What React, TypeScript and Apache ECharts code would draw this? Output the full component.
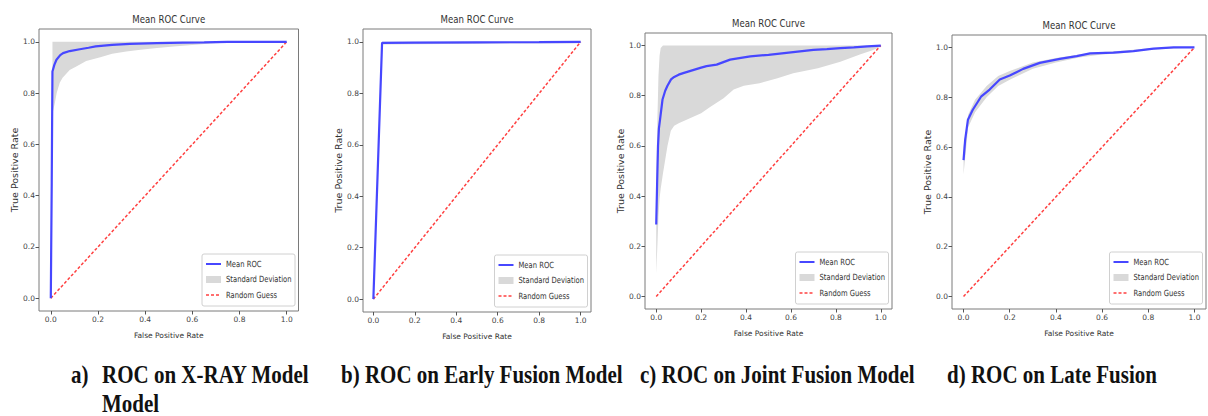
import React, { useEffect, useRef } from "react";
import * as echarts from "echarts";

// ---------- data ----------
const TICKS = [0, 0.2, 0.4, 0.6, 0.8, 1.0];
const GUESS_X = [0, 1];
const GUESS_Y = [0, 1];

// a) X-RAY model
const aMeanX = [0, 0.004, 0.007, 0.015, 0.024, 0.04, 0.052, 0.08, 0.123, 0.16, 0.19, 0.26, 0.335, 0.45, 0.56, 0.65, 0.75, 0.85, 1.0];
const aMeanY = [0, 0.45, 0.884, 0.91, 0.93, 0.948, 0.956, 0.964, 0.971, 0.977, 0.982, 0.988, 0.992, 0.995, 0.997, 0.998, 1.0, 1.0, 1.0];
const aBandX = [0.007, 0.012, 0.017, 0.025, 0.038, 0.05, 0.08, 0.11, 0.15, 0.21, 0.26, 0.32, 0.38, 0.45, 0.52, 0.6, 0.68, 0.76, 0.85, 1.0];
const aBandLo = [0.72, 0.74, 0.76, 0.8, 0.84, 0.86, 0.89, 0.905, 0.925, 0.94, 0.953, 0.962, 0.969, 0.976, 0.982, 0.988, 0.993, 0.997, 1.0, 1.0];
const aBandHi = [1.0, 1.0, 1.0, 1.0, 1.0, 1.0, 1.0, 1.0, 1.0, 1.0, 1.0, 1.0, 1.0, 1.0, 1.0, 1.0, 1.0, 1.0, 1.0, 1.0];

// b) Early fusion model
const bMeanX = [0, 0.042, 0.2, 0.5, 0.8, 1.0];
const bMeanY = [0, 0.996, 0.997, 0.998, 0.999, 1.0];
const bBandX = [0.042, 0.5, 1.0];
const bBandLo = [0.99, 0.993, 0.995];
const bBandHi = [1.0, 1.0, 1.0];

// c) Joint fusion model
const cMeanX = [0, 0.004, 0.008, 0.012, 0.017, 0.028, 0.04, 0.05, 0.066, 0.08, 0.1, 0.12, 0.149, 0.2, 0.224, 0.269, 0.329, 0.37, 0.419, 0.5, 0.58, 0.64, 0.7, 0.76, 0.82, 0.88, 0.94, 1.0];
const cMeanY = [0.287, 0.45, 0.6, 0.67, 0.705, 0.785, 0.82, 0.84, 0.865, 0.875, 0.884, 0.89, 0.898, 0.912, 0.918, 0.924, 0.944, 0.95, 0.957, 0.963, 0.971, 0.977, 0.983, 0.986, 0.99, 0.993, 0.997, 1.0];
const cBandX = [0, 0.005, 0.01, 0.015, 0.02, 0.03, 0.05, 0.065, 0.08, 0.1, 0.15, 0.2, 0.24, 0.3, 0.345, 0.39, 0.46, 0.54, 0.61, 0.72, 0.82, 0.91, 0.96, 1.0];
const cBandLo = [0.09, 0.2, 0.32, 0.39, 0.43, 0.49, 0.6, 0.66, 0.68, 0.69, 0.71, 0.73, 0.755, 0.79, 0.825, 0.84, 0.85, 0.87, 0.89, 0.91, 0.935, 0.965, 0.98, 0.995];
const cBandHi = [0.45, 0.7, 0.88, 0.96, 0.99, 1.0, 1.0, 1.0, 1.0, 1.0, 1.0, 1.0, 1.0, 1.0, 1.0, 1.0, 1.0, 1.0, 1.0, 1.0, 1.0, 1.0, 1.0, 1.0];

// d) Late fusion
const dMeanX = [0, 0.007, 0.019, 0.04, 0.077, 0.113, 0.157, 0.2, 0.258, 0.33, 0.417, 0.49, 0.548, 0.649, 0.736, 0.823, 0.91, 1.0];
const dMeanY = [0.548, 0.629, 0.71, 0.75, 0.804, 0.831, 0.871, 0.887, 0.914, 0.938, 0.954, 0.965, 0.976, 0.979, 0.985, 0.995, 1.0, 1.0];
const dBandX = [0, 0.02, 0.05, 0.1, 0.15, 0.2, 0.3, 0.4, 0.5, 0.6, 0.7, 0.8, 0.9, 1.0];
const dBandLo = [0.49, 0.68, 0.74, 0.8, 0.845, 0.87, 0.915, 0.94, 0.96, 0.972, 0.978, 0.99, 0.996, 1.0];
const dBandHi = [0.6, 0.73, 0.79, 0.845, 0.885, 0.905, 0.94, 0.958, 0.972, 0.982, 0.988, 0.997, 1.0, 1.0];

const TITLES = ["Mean ROC Curve", "Mean ROC Curve", "Mean ROC Curve", "Mean ROC Curve"];
const LEGEND_NAMES = ["Mean ROC", "Standard Deviation", "Random Guess"];
const CAPTIONS = ["ROC on X-RAY Model", "b) ROC on Early Fusion Model", "c) ROC on Joint Fusion Model", "d) ROC on Late Fusion"];

// ---------- layout / style ----------
const GRIDS = [
  { left: 39, top: 29, width: 259.5, height: 282 },
  { left: 363, top: 29, width: 228, height: 283 },
  { left: 645, top: 33, width: 247, height: 276 },
  { left: 952, top: 35, width: 254, height: 274 },
];
const NAME_GAPS_Y = [19, 16, 18, 17];
const FONT = "'DejaVu Sans', sans-serif";
const BLUE = "#4747ff";
const RED = "#ff4040";
const BAND = "#d9d9d9";

const PANELS = [
  { meanX: aMeanX, meanY: aMeanY, bandX: aBandX, bandLo: aBandLo, bandHi: aBandHi },
  { meanX: bMeanX, meanY: bMeanY, bandX: bBandX, bandLo: bBandLo, bandHi: bBandHi },
  { meanX: cMeanX, meanY: cMeanY, bandX: cBandX, bandLo: cBandLo, bandHi: cBandHi },
  { meanX: dMeanX, meanY: dMeanY, bandX: dBandX, bandLo: dBandLo, bandHi: dBandHi },
];

function buildOption() {
  const grid: any[] = [];
  const xAxis: any[] = [];
  const yAxis: any[] = [];
  const series: any[] = [];
  const graphic: any[] = [];

  PANELS.forEach((p, i) => {
    const g = GRIDS[i];
    grid.push({ ...g, show: true, borderColor: "#7a7a7a", borderWidth: 1, backgroundColor: "transparent", containLabel: false });
    const axisCommon = {
      type: "value",
      gridIndex: i,
      min: -0.05,
      max: 1.05,
      axisLine: { show: false, onZero: false },
      splitLine: { show: false },
      axisTick: { show: true, inside: false, length: 3.5, customValues: TICKS, lineStyle: { color: "#555", width: 1 } },
      axisLabel: {
        customValues: TICKS,
        formatter: (v: number) => v.toFixed(1),
        fontSize: 7.5,
        fontFamily: FONT,
        color: "#444",
        margin: 4,
      },
      nameLocation: "middle",
    };
    xAxis.push({ ...axisCommon, name: "False Positive Rate", nameGap: 20, nameTextStyle: { fontSize: 7.5, fontFamily: FONT, color: "#333" } });
    yAxis.push({ ...axisCommon, name: "True Positive Rate", nameGap: NAME_GAPS_Y[i], nameTextStyle: { fontSize: 9.5, fontFamily: FONT, color: "#333" } });

    // panel title
    graphic.push({
      type: "text",
      x: g.left + g.width / 2,
      y: g.top - 10,
      scaleX: 0.78,
      style: { text: TITLES[i], fontSize: 11, fontFamily: FONT, fill: "#333", align: "center", verticalAlign: "middle" },
    });

    const bx = p.bandX, lo = p.bandLo, hi = p.bandHi;
    series.push({
      type: "custom",
      name: "Standard Deviation",
      xAxisIndex: i,
      yAxisIndex: i,
      silent: true,
      z: 1,
      data: bx.map((x, k) => [x, lo[k], hi[k]]),
      encode: { x: 0, y: [1, 2] },
      renderItem: (params: any, api: any) => {
        if (params.dataIndex !== 0) return null;
        const upper = bx.map((x, k) => api.coord([x, hi[k]]));
        const lower = bx.map((x, k) => api.coord([x, lo[k]])).reverse();
        return { type: "polygon", shape: { points: upper.concat(lower) }, style: { fill: BAND } };
      },
    });
    series.push({
      type: "line",
      name: "Random Guess",
      xAxisIndex: i,
      yAxisIndex: i,
      z: 2,
      symbol: "none",
      data: GUESS_X.map((x, k) => [x, GUESS_Y[k]]),
      lineStyle: { color: RED, width: 1.5, type: [3, 2] },
    });
    series.push({
      type: "line",
      name: "Mean ROC",
      xAxisIndex: i,
      yAxisIndex: i,
      z: 3,
      symbol: "none",
      data: p.meanX.map((x, k) => [x, p.meanY[k]]),
      lineStyle: { color: BLUE, width: 2.2 },
    });

    // legend box (matplotlib style)
    const bw = 93, bh = 52;
    const bxl = g.left + g.width - 3.5 - bw;
    const byt = g.top + g.height - 5 - bh;
    const rows = [10, 25.5, 41];
    graphic.push({ type: "rect", shape: { x: bxl, y: byt, width: bw, height: bh, r: 2 }, style: { fill: "rgba(255,255,255,0.85)", stroke: "#d0d0d0", lineWidth: 1 }, z: 10 });
    graphic.push({ type: "line", shape: { x1: bxl + 4, y1: byt + rows[0], x2: bxl + 19, y2: byt + rows[0] }, style: { stroke: BLUE, lineWidth: 2 }, z: 11 });
    graphic.push({ type: "rect", shape: { x: bxl + 4, y: byt + rows[1] - 3.5, width: 15, height: 7 }, style: { fill: BAND }, z: 11 });
    graphic.push({ type: "line", shape: { x1: bxl + 4, y1: byt + rows[2], x2: bxl + 19, y2: byt + rows[2] }, style: { stroke: RED, lineWidth: 1.5, lineDash: [3, 2] }, z: 11 });
    LEGEND_NAMES.forEach((n, k) => {
      graphic.push({
        type: "text",
        x: bxl + 24,
        y: byt + rows[k],
        scaleX: 0.8,
        z: 11,
        style: { text: n, fontSize: 8.5, fontFamily: FONT, fill: "#333", align: "left", verticalAlign: "middle" },
      });
    });
  });

  // captions
  const capStyle = { fontSize: 25, fontFamily: "'Liberation Serif', 'Times New Roman', serif", fontWeight: "bold", fill: "#111", align: "left", verticalAlign: "middle" };
  const capPos = [
    { x: 102, y: 374 },
    { x: 341, y: 374 },
    { x: 640, y: 374 },
    { x: 947, y: 374 },
  ];
  graphic.push({ type: "text", x: 71, y: 374, scaleX: 0.84, style: { ...capStyle, text: "a)" } });
  CAPTIONS.forEach((c, k) => {
    graphic.push({ type: "text", x: capPos[k].x, y: capPos[k].y, scaleX: 0.84, style: { ...capStyle, text: c } });
  });
  graphic.push({ type: "text", x: 102, y: 403, scaleX: 0.84, style: { ...capStyle, text: "Model" } });

  return {
    animation: false,
    backgroundColor: "#ffffff",
    grid,
    xAxis,
    yAxis,
    series,
    graphic,
  };
}

export default function App() {
  const ref = useRef<HTMLDivElement>(null);
  useEffect(() => {
    if (!ref.current) return;
    const chart = echarts.init(ref.current, undefined, { renderer: "svg" });
    chart.setOption(buildOption() as any);
    return () => chart.dispose();
  }, []);
  return <div ref={ref} style={{ position: "absolute", left: 0, top: 0, width: 1208, height: 416 }} />;
}
